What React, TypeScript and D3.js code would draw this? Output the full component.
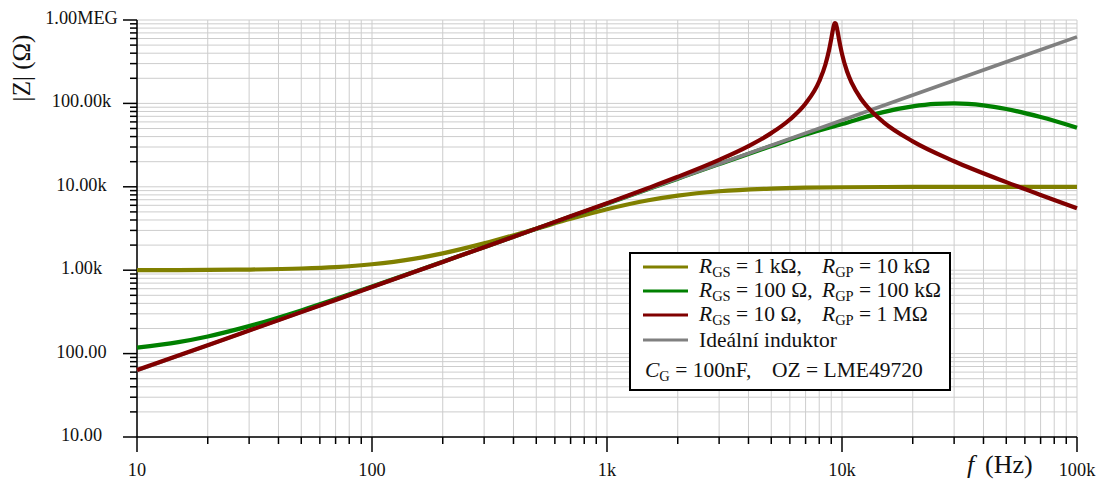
import React from "react";
import * as d3 from "d3";

const W = 1112;
const H = 484;

const yTickValues = [10, 100, 1000, 10000, 100000, 1000000];
const yTickLabels = ["10.00", "100.00", "1.00k", "10.00k", "100.00k", "1.00MEG"];
const xTickValues = [10, 100, 1000, 10000, 100000];
const xTickLabels = ["10", "100", "1k", "10k", "100k"];

const freqOlive = [10, 15, 20, 30, 50, 70, 100, 150, 200, 300, 500, 700, 1000, 1500, 2000, 3000, 5000, 7000, 10000, 20000, 30000, 50000, 100000];
const zOlive = [1002, 1004, 1008, 1018, 1048, 1091, 1179, 1368, 1593, 2096, 3145, 4128, 5387, 6897, 7850, 8846, 9534, 9754, 9877, 9969, 9986, 9995, 9999];

const freqGreen = [10, 15, 20, 30, 50, 70, 100, 150, 200, 300, 500, 700, 1000, 1500, 2000, 3000, 5000, 7000, 10000, 15000, 20000, 25000, 30000, 40000, 50000, 70000, 100000];
const zGreen = [118.1, 137.4, 160.6, 213.4, 329.7, 451.0, 636.2, 947.8, 1260.6, 1887.6, 3143.2, 4399, 6272, 9410, 12525, 18712, 30780, 42253, 56500, 78660, 91950, 98480, 99980, 94720, 85670, 68580, 51105];

const freqRed = [10, 15, 20, 30, 50, 70, 100, 150, 200, 300, 500, 700, 1000, 1500, 2000, 3000, 4000, 5000, 6000, 7000, 8000, 8500, 8800, 9000, 9100, 9200, 9300, 9350, 9400, 9500, 9600, 9700, 9800, 10000, 10500, 11000, 12000, 13000, 15000, 20000, 30000, 50000, 70000, 100000];
const zRed = [63.6, 94.8, 126.1, 188.8, 314.3, 439.9, 628.4, 942.6, 1257, 1886, 3151, 4423, 6356, 9674, 13169, 21015, 30770, 44012, 64125, 99600, 184230, 292970, 430720, 594200, 705870, 825950, 909340, 920000, 905310, 818870, 704270, 599160, 513480, 392370, 242700, 176090, 115330, 86990, 59680, 35080, 20255, 11374, 7983, 5537];

const freqGray = [10, 100, 1000, 10000, 100000];
const zGray = [62.83, 628.3, 6283, 62832, 628319];

const FONT = "'Liberation Serif', 'Times New Roman', serif";

export default function App() {
  const x = d3.scaleLog().domain([10, 100000]).range([137, 1077]);
  const y = d3.scaleLog().domain([10, 1000000]).range([437, 20]);

  const xGrid: number[] = [];
  for (let d = 10; d < 100000; d *= 10) for (let m = 1; m <= 9; m++) xGrid.push(d * m);
  xGrid.push(100000);
  const yGrid: number[] = [];
  for (let d = 10; d < 1000000; d *= 10) for (let m = 1; m <= 9; m++) yGrid.push(d * m);
  yGrid.push(1000000);

  const line = d3
    .line<[number, number]>()
    .x((d) => x(d[0]))
    .y((d) => y(d[1]))
    .curve(d3.curveMonotoneX);

  const series = [
    { f: freqOlive, z: zOlive, color: "#808000", w: 4.2 },
    { f: freqGreen, z: zGreen, color: "#008000", w: 4.2 },
    { f: freqGray, z: zGray, color: "#808080", w: 3.6 },
    { f: freqRed, z: zRed, color: "#800000", w: 4.2 },
  ];

  const isMajor = (v: number) => Math.abs(Math.log10(v) - Math.round(Math.log10(v))) < 1e-9;

  const legendRows = [
    { color: "#808000", a: "1 kΩ,", b: "10 kΩ" },
    { color: "#008000", a: "100 Ω,", b: "100 kΩ" },
    { color: "#800000", a: "10 Ω,", b: "1 MΩ" },
  ];
  const rowY = [267, 291, 315];

  return (
    <svg width={W} height={H} style={{ position: "absolute", left: 0, top: 0, background: "#fff" }} fontFamily={FONT}>
      <rect x={0} y={0} width={W} height={H} fill="#fff" />
      {/* grid */}
      <g stroke="#cdcdcd" strokeWidth={1}>
        {xGrid.map((v, i) => (
          <line key={"gx" + i} x1={x(v)} x2={x(v)} y1={20} y2={437} />
        ))}
        {yGrid.map((v, i) => (
          <line key={"gy" + i} x1={137} x2={1077} y1={y(v)} y2={y(v)} />
        ))}
      </g>
      {/* axes */}
      <g stroke="#000" strokeWidth={1.5}>
        <line x1={137} x2={137} y1={20} y2={437} />
        <line x1={137} x2={1077} y1={437} y2={437} />
        {yGrid.map((v, i) => (
          <line key={"ty" + i} x1={isMajor(v) ? 123 : 130} x2={137} y1={y(v)} y2={y(v)} />
        ))}
        {xGrid.map((v, i) => (
          <line key={"tx" + i} x1={x(v)} x2={x(v)} y1={437} y2={isMajor(v) ? 452 : 444} />
        ))}
      </g>
      {/* tick labels */}
      <g fontSize={18.3} fill="#111">
        {yTickValues.map((v, i) => (
          <text key={"ly" + i} x={81.5} y={y(v) + 4} textAnchor="middle">
            {yTickLabels[i]}
          </text>
        ))}
        {xTickValues.map((v, i) => (
          <text key={"lx" + i} x={x(v)} y={476} textAnchor="middle">
            {xTickLabels[i]}
          </text>
        ))}
      </g>
      {/* axis titles */}
      <text transform="translate(30,68) rotate(-90)" textAnchor="middle" fontSize={25} fill="#111">
        |Z| (Ω)
      </text>
      <text x={967} y={473} fontSize={26} fill="#111" fontStyle="italic">f</text>
      <text x={985} y={473} fontSize={26} fill="#111">(Hz)</text>
      {/* series */}
      <g fill="none" strokeLinejoin="round">
        {series.map((s, i) => (
          <path
            key={"s" + i}
            d={line(s.f.map((f, j) => [f, s.z[j]] as [number, number])) || ""}
            stroke={s.color}
            strokeWidth={s.w}
          />
        ))}
      </g>
      {/* legend */}
      <g fontSize={21.5} fill="#111">
        <rect x={630} y={253} width={320} height={137} fill="#fff" stroke="#000" strokeWidth={2} />
        {legendRows.map((r, i) => (
          <g key={"lg" + i}>
            <line x1={643} x2={688} y1={rowY[i]} y2={rowY[i]} stroke={r.color} strokeWidth={3} />
            <text x={699} y={rowY[i] + 6}>
              <tspan fontStyle="italic">R</tspan>
              <tspan fontSize={14.5} dy={4}>GS</tspan>
              <tspan dy={-4}>{" = " + r.a}</tspan>
            </text>
            <text x={822} y={rowY[i] + 6}>
              <tspan fontStyle="italic">R</tspan>
              <tspan fontSize={14.5} dy={4}>GP</tspan>
              <tspan dy={-4}>{" = " + r.b}</tspan>
            </text>
          </g>
        ))}
        <line x1={643} x2={688} y1={340} y2={340} stroke="#808080" strokeWidth={3} />
        <text x={699} y={347}>Ideální induktor</text>
        <text x={645} y={377}>
          <tspan fontStyle="italic">C</tspan>
          <tspan fontSize={14.5} dy={4}>G</tspan>
          <tspan dy={-4}>{" = 100nF,"}</tspan>
        </text>
        <text x={772} y={377}>OZ = LME49720</text>
      </g>
    </svg>
  );
}
